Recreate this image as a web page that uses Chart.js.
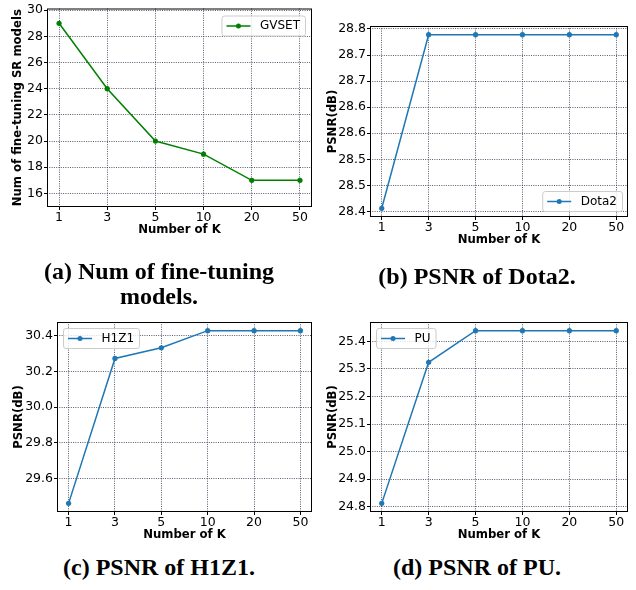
<!DOCTYPE html>
<html>
<head>
<meta charset="utf-8">
<script src="https://cdn.jsdelivr.net/npm/chart.js@4.4.0/dist/chart.umd.min.js"></script>
<style>
  body { margin: 0; background: #fff; }
  #page { position: relative; width: 636px; height: 590px; }
  canvas { position: absolute; }
  .cap {
    position: absolute; width: 318px; text-align: center; color: #000;
    font-family: 'Liberation Serif', serif; font-weight: bold; font-size: 24px; line-height: 25px;
  }
</style>
</head>
<body>
<div id="page">
  <canvas id="chartA" width="318" height="250" style="left:0;top:0"></canvas>
  <canvas id="chartB" width="318" height="250" style="left:318px;top:0"></canvas>
  <canvas id="chartC" width="318" height="250" style="left:0;top:300px"></canvas>
  <canvas id="chartD" width="318" height="250" style="left:318px;top:300px"></canvas>
  <div class="cap" style="left:0;top:259px">(a) Num of fine-tuning<br>models.</div>
  <div class="cap" style="left:318px;top:264px">(b) PSNR of Dota2.</div>
  <div class="cap" style="left:0;top:555px">(c) PSNR of H1Z1.</div>
  <div class="cap" style="left:318px;top:555px">(d) PSNR of PU.</div>
</div>
<script>
// values
const kLabels = ['1', '3', '5', '10', '20', '50'];
const gvsetModels = [29, 24, 20, 19, 17, 17];
const dota2Psnr = [28.406, 28.739, 28.739, 28.739, 28.739, 28.739];
const h1z1Psnr = [29.46, 30.274, 30.334, 30.43, 30.43, 30.43];
const puPsnr = [24.812, 25.324, 25.439, 25.439, 25.439, 25.439];

// y ticks (dota2 labels are rounded like the original, so some repeat)
const gvsetTicks = [16, 18, 20, 22, 24, 26, 28, 30];
const gvsetTickLabels = ['16', '18', '20', '22', '24', '26', '28', '30'];
const dota2Ticks = [28.40, 28.45, 28.50, 28.55, 28.60, 28.65, 28.70, 28.75];
const dota2TickLabels = ['28.4', '28.5', '28.5', '28.6', '28.6', '28.7', '28.7', '28.8'];
const h1z1Ticks = [29.6, 29.8, 30.0, 30.2, 30.4];
const h1z1TickLabels = ['29.6', '29.8', '30.0', '30.2', '30.4'];
const puTicks = [24.8, 24.9, 25.0, 25.1, 25.2, 25.3, 25.4];
const puTickLabels = ['24.8', '24.9', '25.0', '25.1', '25.2', '25.3', '25.4'];

const green = '#008000';
const blue = '#1f77b4';
const gridColor = 'rgba(40,50,70,0.8)';

Chart.defaults.font.family = '"DejaVu Sans", sans-serif';
Chart.defaults.color = '#000';

// matplotlib style auto limits (5% margin)
function padRange(values) {
  let lo = Math.min(...values), hi = Math.max(...values);
  let m = (hi - lo) * 0.05;
  return [lo - m, hi + m];
}

// black frame round the plot area + a small legend inside it
const frameAndLegend = {
  id: 'frameAndLegend',
  afterDatasetsDraw(chart, args, opts) {
    const a = chart.chartArea;
    const c = chart.ctx;
    c.save();
    c.strokeStyle = '#000';
    c.lineWidth = 1;
    c.strokeRect(a.left + 0.5, a.top + 0.5, a.right - a.left - 1, a.bottom - a.top - 1);

    const ds = chart.data.datasets[0];
    c.font = '12px "DejaVu Sans"';
    const pad = 5, lineLen = 24, gap = 9.5, h = 20;
    const w = pad + lineLen + gap + c.measureText(ds.label).width + pad;
    const m = opts.margin;
    let x = opts.corner[1] === 'r' ? a.right - m - w : a.left + m;
    let y = opts.corner[0] === 't' ? a.top + m : a.bottom - m - h;
    c.fillStyle = 'rgba(255,255,255,0.8)';
    c.strokeStyle = '#cccccc';
    c.beginPath();
    c.roundRect(x + 0.5, y + 0.5, w, h, 2.5);
    c.fill();
    c.stroke();
    let cy = y + h / 2 + 0.5;
    c.strokeStyle = ds.borderColor;
    c.lineWidth = 1.5;
    c.beginPath();
    c.moveTo(x + pad, cy);
    c.lineTo(x + pad + lineLen, cy);
    c.stroke();
    c.fillStyle = ds.borderColor;
    c.beginPath();
    c.arc(x + pad + lineLen / 2, cy, 2.5, 0, Math.PI * 2);
    c.fill();
    c.fillStyle = '#000';
    c.textBaseline = 'middle';
    c.fillText(ds.label, x + pad + lineLen + gap, cy);
    c.restore();
  }
};

function makeChart(id, spec) {
  const gridOpts = {
    color: gridColor, lineWidth: 1,
    tickColor: '#000', tickLength: 3, tickBorderDash: [], tickWidth: 1
  };
  // in v4 the dash of the grid lines sits under border
  const borderOpts = { display: false, dash: [1, 1.3] };
  return new Chart(document.getElementById(id), {
    type: 'line',
    data: {
      datasets: [{
        label: spec.label,
        data: spec.values.map((v, i) => ({ x: i, y: v })),
        borderColor: spec.color,
        backgroundColor: spec.color,
        pointBackgroundColor: spec.color,
        pointBorderWidth: 0,
        pointRadius: 2.6,
        borderWidth: 1.5,
        tension: 0
      }]
    },
    options: {
      responsive: false,
      animation: false,
      layout: { padding: { left: 0, top: spec.box.top, right: spec.box.right, bottom: 0 } },
      scales: {
        x: {
          type: 'linear', min: -0.25, max: 5.25,
          afterBuildTicks: s => { s.ticks = kLabels.map((k, i) => ({ value: i })); },
          afterFit: s => { s.height = spec.box.xHeight; },
          ticks: { callback: (v, i) => kLabels[i], font: { size: 12.5 }, padding: 0, autoSkip: false, maxRotation: 0 },
          grid: gridOpts,
          border: borderOpts,
          title: { display: true, text: 'Number of K', font: { size: 11.7, weight: 'bold' }, padding: { top: 0, bottom: spec.box.xTitlePad } }
        },
        y: {
          min: spec.yMin, max: spec.yMax,
          afterBuildTicks: s => { s.ticks = spec.yTicks.map(v => ({ value: v })); },
          afterFit: s => { s.width = spec.box.yWidth; },
          ticks: { callback: (v, i) => spec.yTickLabels[i], font: { size: 12.5 }, padding: 1, autoSkip: false },
          grid: gridOpts,
          border: borderOpts,
          title: { display: true, text: spec.yTitle, font: { size: 11.7, weight: 'bold' }, padding: { top: spec.box.yTitlePad, bottom: 0 } }
        }
      },
      plugins: {
        legend: { display: false },
        tooltip: { enabled: false },
        frameAndLegend: { corner: spec.corner, margin: spec.legendMargin }
      }
    },
    plugins: [frameAndLegend]
  });
}

let dotaRange = padRange(dota2Psnr);
let h1z1Range = padRange(h1z1Psnr);
let puRange = padRange(puPsnr);

makeChart('chartA', {
  label: 'GVSET', color: green, values: gvsetModels,
  yMin: 14.96, yMax: 30.13, yTicks: gvsetTicks, yTickLabels: gvsetTickLabels,
  yTitle: 'Num of fine-tuning SR models', corner: 'tr', legendMargin: 7,
  box: { top: 7, right: 6, yWidth: 47, xHeight: 43, yTitlePad: 11.4, xTitlePad: 13 }
});
makeChart('chartB', {
  label: 'Dota2', color: blue, values: dota2Psnr,
  yMin: dotaRange[0], yMax: dotaRange[1], yTicks: dota2Ticks, yTickLabels: dota2TickLabels,
  yTitle: 'PSNR(dB)', corner: 'br', legendMargin: 6,
  box: { top: 26, right: 8, yWidth: 52, xHeight: 33, yTitlePad: 7.8, xTitlePad: 3 }
});
makeChart('chartC', {
  label: 'H1Z1', color: blue, values: h1z1Psnr,
  yMin: h1z1Range[0], yMax: h1z1Range[1], yTicks: h1z1Ticks, yTickLabels: h1z1TickLabels,
  yTitle: 'PSNR(dB)', corner: 'tl', legendMargin: 6,
  box: { top: 22, right: 6, yWidth: 57, xHeight: 38, yTitlePad: 12.1, xTitlePad: 8 }
});
makeChart('chartD', {
  label: 'PU', color: blue, values: puPsnr,
  yMin: puRange[0], yMax: puRange[1], yTicks: puTicks, yTickLabels: puTickLabels,
  yTitle: 'PSNR(dB)', corner: 'tl', legendMargin: 6,
  box: { top: 22, right: 8, yWidth: 52, xHeight: 38, yTitlePad: 7.8, xTitlePad: 8 }
});
</script>
</body>
</html>
